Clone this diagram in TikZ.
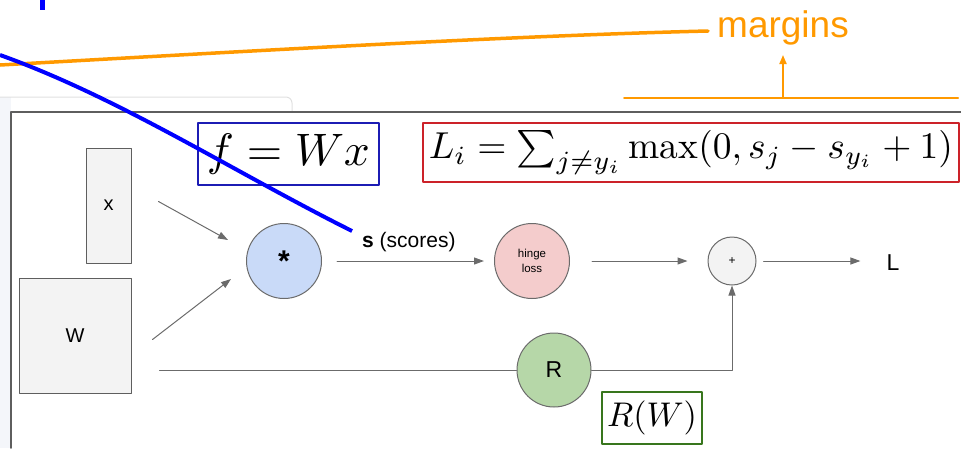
\documentclass[tikz,border=0pt]{standalone}
\usepackage{amsmath}
\usepackage{graphicx}
\usepackage{fontspec}
\setsansfont{Liberation Sans}
\usetikzlibrary{arrows.meta}
\definecolor{linegray}{HTML}{6B6B6B}
\definecolor{framegray}{HTML}{5E5E5E}
\definecolor{boxfill}{HTML}{F3F3F3}
\definecolor{multfill}{HTML}{C9DAF8}
\definecolor{hingefill}{HTML}{F4CCCC}
\definecolor{regfill}{HTML}{B6D7A8}
\definecolor{notered}{HTML}{CC2229}
\definecolor{noteblue}{HTML}{1C1CB4}
\definecolor{notegreen}{HTML}{38761D}
\definecolor{markorange}{HTML}{FF9900}
\definecolor{panelfill}{HTML}{F4F6FA}
\begin{document}
\begin{tikzpicture}[x=1pt,y=-1pt,line cap=round,line join=round,
  matbox/.style={draw=framegray,line width=1pt,fill=boxfill,inner sep=0pt,
                 font=\sffamily\fontsize{20}{24}\selectfont},
  op/.style={circle,draw=linegray,line width=1pt,inner sep=0pt},
  conn/.style={draw=linegray,line width=1pt,-{Triangle[length=10pt,width=7pt]}},
  wire/.style={draw=linegray,line width=1pt},
  formula/.style={draw,line width=1.8pt,inner sep=0pt},
  lbl/.style={font=\sffamily\fontsize{20}{24}\selectfont}]
\useasboundingbox (0,0) rectangle (961,448);
% faint panel behind the slide
\fill[panelfill] (0,97) rectangle (11,448);
\draw[black!12,line width=1pt,rounded corners=6pt] (0,97) -- (292,97) -- (292,112);
% slide frame
\draw[framegray,line width=1.5pt] (961,112) -- (11,112) -- (11,448);

\node[formula,draw=noteblue,minimum width=181,minimum height=62] (fwx) at (288.5,154)
  {\resizebox{163pt}{!}{$f=Wx$}};
\node[formula,draw=notered,minimum width=536,minimum height=59] (hinge eq) at (691,152.5)
  {\resizebox{524pt}{!}{$L_i=\sum_{j\neq y_i}\max(0,s_j-s_{y_i}+1)$}};
\node[formula,draw=notegreen,minimum width=100,minimum height=52] (rw) at (652,418)
  {\resizebox{90pt}{!}{$R(W)$}};

\node[matbox,minimum width=45,minimum height=115] (x) at (108.5,205.5) {x};
\node[matbox,minimum width=112,minimum height=115] (W) at (75,335.5) {W};

\node[op,fill=multfill,minimum size=75] (mult) at (284,261)
  {\sffamily\bfseries\fontsize{30}{30}\selectfont\raisebox{-4pt}{*}};
\node[op,fill=hingefill,minimum size=75,align=center,
      font=\sffamily\fontsize{11.5}{15}\selectfont] (hinge) at (532,261) {hinge\\loss};
\node[op,fill=boxfill,minimum size=48,font=\sffamily\fontsize{12}{12}\selectfont] (plus) at (732,261) {+};
\node[op,fill=regfill,minimum size=74,lbl,font=\sffamily\fontsize{23}{23}\selectfont] (R) at (554,370) {R};
\node[lbl,font=\sffamily\fontsize{23}{23}\selectfont,inner sep=0pt] (L) at (893,263) {L};
\node[lbl,font=\sffamily\fontsize{21}{24}\selectfont,anchor=west,inner sep=0pt] (scores) at (362,242)
  {\textbf{s} (scores)};

\draw[conn] ([shift={(27,-4)}]x.east) -- ([shift={(-18,-21)}]mult.west);
\draw[conn] ([shift={(21,4)}]W.east) -- ([shift={(-15,18)}]mult.west);
\draw[conn,shorten <=15pt,shorten >=10pt] (mult) -- (hinge);
\draw[conn,shorten <=22pt,shorten >=20pt] (hinge) -- (plus);
\draw[conn,shorten <=7pt,shorten >=26pt] (plus.east) -- (plus.east -| L.west);
\draw[wire] ([xshift=28]W.east |- R.west) -- (R.west);
\draw[conn] (R.east) -| (plus.south);

% annotations on top
\node[text=markorange,font=\sffamily\fontsize{37}{37}\selectfont,anchor=base west,inner sep=0pt]
  (margins) at (717,37) {margins};
\coordinate (curve end) at (708,31);
\coordinate (margin line) at (783,97.5);
\draw[markorange,line width=3.5pt] (0,65) .. controls (200,54) and (500,36) .. (curve end);
\draw[markorange,line width=2pt] (624,97.5) -- (958,97.5);
\draw[markorange,line width=1.8pt,-{Triangle[length=9pt,width=7pt]}] (margin line) -- (783,55);
\draw[blue,line width=4pt,line cap=butt] (0,55) .. controls (120,98) and (232,171) .. (352,231);
\draw[blue,line width=5pt,line cap=butt] (42.5,0) -- (42.5,10);
\end{tikzpicture}
\end{document}
